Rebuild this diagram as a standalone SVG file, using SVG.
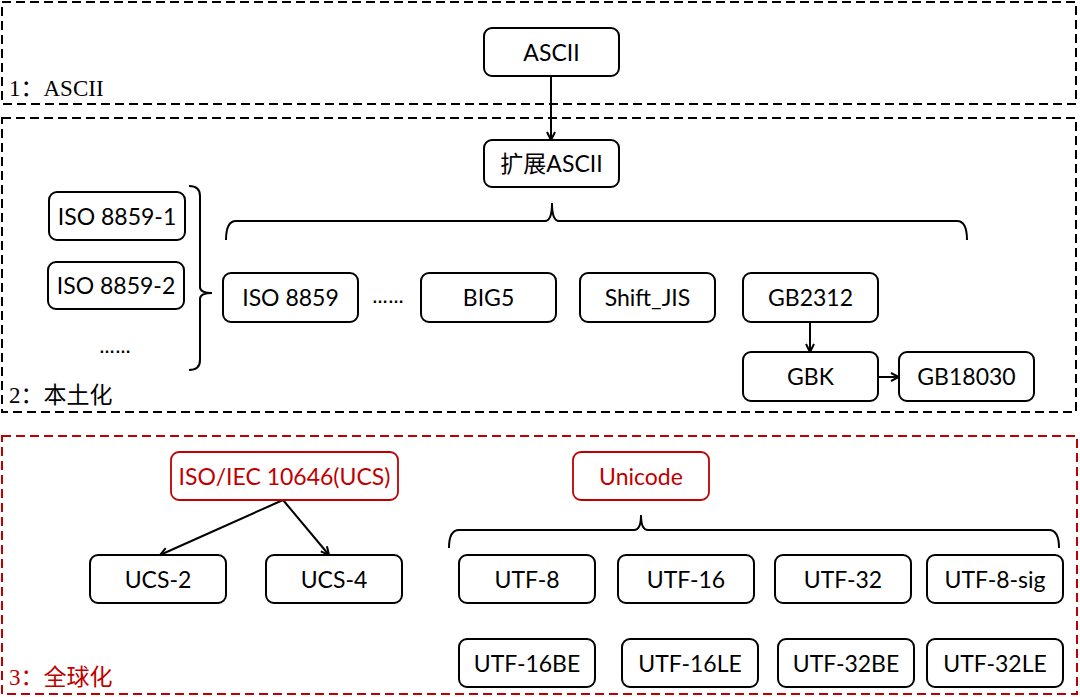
<svg xmlns="http://www.w3.org/2000/svg" width="1080" height="697" viewBox="0 0 1080 697">
<defs>
<style>
.sec{fill:none;stroke:#000;stroke-width:2;stroke-dasharray:9,5}
.secr{fill:none;stroke:#c00000;stroke-width:2;stroke-dasharray:9,5}
.box{fill:#fff;stroke:#000;stroke-width:2}
.boxr{fill:#fff;stroke:#c00000;stroke-width:1.8}
.t{font-family:Lato,"Liberation Sans","Noto Sans CJK SC",sans-serif;font-size:23px;fill:#000;text-anchor:middle}
.tr{fill:#c00000}
.dots{font-family:"Liberation Sans",sans-serif;font-size:16px;font-weight:bold;fill:#000;text-anchor:middle}
.lbl{font-family:"Liberation Serif","Noto Sans CJK SC",serif;font-size:23px;fill:#000}
.ln{fill:none;stroke:#000;stroke-width:2}
.cn{fill:none;stroke:#000;stroke-width:2;marker-end:url(#ah)}
</style>
<marker id="ah" viewBox="0 0 10 10" refX="9" refY="5" markerWidth="5" markerHeight="5" orient="auto" markerUnits="strokeWidth">
<path d="M1,1 L9,5 L1,9" fill="none" stroke="#000" stroke-width="2"/>
</marker>
</defs>
<rect width="1080" height="697" fill="#fff"/>

<g id="section1">
<rect class="sec" x="2" y="2" width="1074" height="102"/>
<text class="lbl" x="9" y="96">1：ASCII</text>
</g>
<g id="section2">
<rect class="sec" x="2" y="118" width="1074" height="294"/>
<text class="lbl" x="9" y="403">2：本土化</text>
</g>
<g id="section3">
<rect class="secr" x="2" y="436" width="1075" height="258"/>
<text class="lbl" x="9" y="685" style="fill:#c00000">3：全球化</text>
</g>

<g id="connectors">
<path class="cn" d="M551,76 L551,140"/>
<path class="cn" d="M810,322 L810,352"/>
<path class="cn" d="M878,377 L899,377"/>
<path class="cn" d="M283,500 L160,555"/>
<path class="cn" d="M283,500 L329,555"/>
<path class="ln" d="M226,240 Q226,221 236,221 L545,221 Q552,221 552,203 Q552,221 559,221 L957,221 Q967,221 967,240"/>
<path class="ln" d="M449,548 Q449,530 459,530 L634,530 Q641,530 641,515 Q641,530 648,530 L1049,530 Q1059,530 1059,548"/>
<path class="ln" d="M189,186 Q200,186 200,196 L200,287 Q200,293 212,293 Q200,293 200,299 L200,360 Q200,370 189,370"/>
</g>

<g id="ascii"><rect class="box" x="484" y="28" width="135" height="48" rx="8"/><text class="t" x="551.5" y="60.5">ASCII</text></g>
<g id="ext-ascii"><rect class="box" x="484" y="140" width="135" height="47" rx="8"/><text class="t" x="551.5" y="172">扩展ASCII</text></g>
<g id="iso8859-1"><rect class="box" x="49" y="192" width="136" height="48" rx="8"/><text class="t" x="117" y="224.5">ISO 8859-1</text></g>
<g id="iso8859-2"><rect class="box" x="48" y="262" width="136" height="47" rx="8"/><text class="t" x="116" y="294">ISO 8859-2</text></g>
<g id="dots1"><text class="dots" x="115" y="353">……</text></g>
<g id="iso8859"><rect class="box" x="223" y="273" width="135" height="49" rx="8"/><text class="t" x="290.5" y="306">ISO 8859</text></g>
<g id="dots2"><text class="dots" x="388" y="303">……</text></g>
<g id="big5"><rect class="box" x="421" y="273" width="135" height="49" rx="8"/><text class="t" x="488.5" y="306">BIG5</text></g>
<g id="shiftjis"><rect class="box" x="580" y="273" width="135" height="49" rx="8"/><text class="t" x="647.5" y="306">Shift_JIS</text></g>
<g id="gb2312"><rect class="box" x="743" y="273" width="135" height="49" rx="8"/><text class="t" x="810.5" y="306">GB2312</text></g>
<g id="gbk"><rect class="box" x="743" y="352" width="135" height="49" rx="8"/><text class="t" x="810.5" y="385">GBK</text></g>
<g id="gb18030"><rect class="box" x="899" y="352" width="135" height="49" rx="8"/><text class="t" x="966.5" y="385">GB18030</text></g>

<g id="ucs"><rect class="boxr" x="171" y="452" width="227" height="48" rx="8"/><text class="t tr" x="284.5" y="484.5">ISO/IEC 10646(UCS)</text></g>
<g id="ucs2"><rect class="box" x="90" y="555" width="136" height="48" rx="8"/><text class="t" x="158" y="587.5">UCS-2</text></g>
<g id="ucs4"><rect class="box" x="266" y="555" width="136" height="48" rx="8"/><text class="t" x="334" y="587.5">UCS-4</text></g>
<g id="unicode"><rect class="boxr" x="573" y="452" width="136" height="48" rx="8"/><text class="t tr" x="641" y="484.5">Unicode</text></g>

<g id="utf8"><rect class="box" x="459" y="555" width="136" height="48" rx="8"/><text class="t" x="527" y="587.5">UTF-8</text></g>
<g id="utf16"><rect class="box" x="618" y="555" width="136" height="48" rx="8"/><text class="t" x="686" y="587.5">UTF-16</text></g>
<g id="utf32"><rect class="box" x="775" y="555" width="136" height="48" rx="8"/><text class="t" x="843" y="587.5">UTF-32</text></g>
<g id="utf8sig"><rect class="box" x="927" y="555" width="136" height="48" rx="8"/><text class="t" x="995" y="587.5">UTF-8-sig</text></g>

<g id="utf16be"><rect class="box" x="459" y="639" width="136" height="48" rx="8"/><text class="t" x="527" y="671.5">UTF-16BE</text></g>
<g id="utf16le"><rect class="box" x="622" y="639" width="136" height="48" rx="8"/><text class="t" x="690" y="671.5">UTF-16LE</text></g>
<g id="utf32be"><rect class="box" x="778" y="639" width="136" height="48" rx="8"/><text class="t" x="846" y="671.5">UTF-32BE</text></g>
<g id="utf32le"><rect class="box" x="927" y="639" width="136" height="48" rx="8"/><text class="t" x="995" y="671.5">UTF-32LE</text></g>
</svg>
